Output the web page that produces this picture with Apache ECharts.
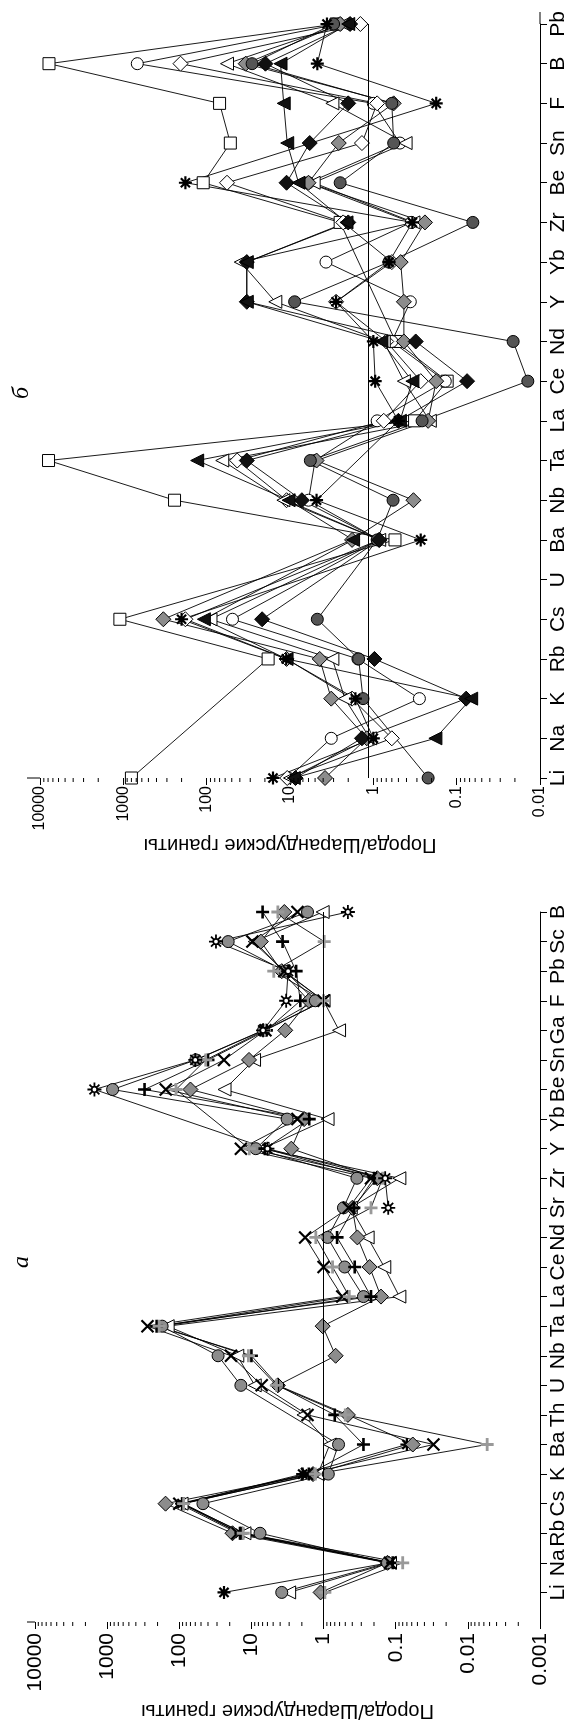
<!DOCTYPE html>
<html><head><meta charset="utf-8">
<script src="https://cdn.jsdelivr.net/npm/echarts@6/dist/echarts.min.js"></script>
<style>html,body{margin:0;padding:0;background:#fff}#c{width:575px;height:1722px}</style>
</head><body><div id="c"></div><script>
// ---------- Panel a (bottom) ----------
const catsA = ['Li','Na','Rb','Cs','K','Ba','Th','U','Nb','Ta','La','Ce','Nd','Sr','Zr','Y','Yb','Be','Sn','Ga','F','Pb','Sc','B'];
const aGrayCircle   = [3.8,0.13,7.6,47,0.86,0.62,null,14,29,173,0.28,0.51,0.88,0.53,0.345,8.7,3.2,840,59,6.8,1.3,3.4,21,1.67];
const aWhiteTri     = [3.0,0.12,12.5,93,1.2,0.82,1.9,9.0,15.7,145,0.089,0.144,0.245,0.42,0.089,7.0,0.88,23.6,9.2,0.61,1.0,3.6,9,1.03];
const aGrayDiamond  = [1.1,0.13,18.3,155,1.4,0.058,0.46,4.3,0.68,1.03,0.16,0.23,0.34,0.4,0.18,2.8,1.86,70,10.8,3.4,1.6,3.8,7.4,3.5];
const aCross        = [null,0.12,15.6,100,1.7,0.030,1.67,7.2,19.2,276,0.55,1.0,1.8,0.45,0.22,14,2.3,154,24,6.4,1.0,3.5,9.7,2.3];
const aPlus         = [null,0.11,14,90,1.6,0.28,0.70,4.3,10,206,0.22,0.37,0.65,0.38,0.2,6.5,1.58,303,40,6.2,2.1,2.4,3.7,7.0];
const aGrayPlus     = [0.96,0.08,13,87,1.3,0.0054,0.5,4.5,11,190,0.44,0.75,1.28,0.22,0.152,10.7,null,111,43,6.6,1.0,4.9,0.98,4.3];
const aOpenStar     = [null,null,null,null,null,null,null,null,null,null,null,null,null,0.127,0.14,6,null,1500,60,6.9,3.3,3.1,31,0.46];
const aAsterisk     = [24,0.125,14.5,92,1.95,0.07,null,null,null,null,null,null,null,null,null,null,null,null,null,null,null,null,null,null];
const tickLabelsA = ['0.001','0.01','0.1','1','10','100','1000','10000'];

// ---------- Panel б (top) ----------
const catsB = ['Li','Na','K','Rb','Cs','U','Ba','Nb','Ta','La','Ce','Nd','Y','Yb','Zr','Be','Sn','F','B','Pb'];
const bWhiteSquare  = [800,null,null,18.3,1100,null,0.55,243,7900,0.32,0.13,0.54,null,null,2.5,110,52,70,7800,2.8];
const bWhiteCircle  = [10.5,3.2,0.28,1.53,49,null,0.85,6,5,0.9,0.137,0.6,0.36,3.7,0.35,6,0.48,1.0,680,2.6];
const bWhiteDiamond = [10.8,0.6,1.8,11,180,null,0.85,11,43,0.75,0.27,0.7,2.8,0.6,2.3,57,1.37,0.9,206,1.43];
const bWhiteTri     = [10,1.1,2.2,3.1,90,null,0.85,12,65,0.21,0.43,0.75,15,39,0.33,5.2,0.41,3.1,57,2.3];
const bGrayDiamond  = [3.8,1.2,3.2,4.4,331,null,1.8,0.33,4.8,0.22,0.176,0.43,0.43,0.47,0.24,6.0,2.6,0.57,34,2.5];
const bDarkCircle   = [0.22,null,1.33,1.5,4.7,null,0.9,0.58,5.7,0.26,0.014,0.021,8.8,0.65,0.064,2.5,0.57,0.6,28.5,3.0];
const bBlackDiamond = [8.6,1.37,0.077,0.97,21.6,null,0.85,7.2,33,0.5,0.075,0.31,33,33,2.0,11,5.8,2.0,19.7,1.9];
const bBlackTri     = [9,0.18,0.067,11,108,null,1.75,10.4,130,0.48,0.34,0.8,33,33,2.1,7.9,10.8,11.9,13,2.0];
const bAsterisk     = [16,1.0,1.64,11.1,200,null,0.27,4.8,null,0.5,0.95,1.0,2.8,0.65,0.34,180,null,0.176,4.7,3.6];
const tickLabelsB = ['0.01','0.1','1','10','100','1000','10000'];

const minorMult = [2,3,4,5,6,7,8,9];
const refLineA = 1, refLineB = 1.15;

const FONT = '"Liberation Sans", Arial, sans-serif';
const SYM_AST = 'path://M0,5L10,5M5,0L5,10M1.5,1.5L8.5,8.5M8.5,1.5L1.5,8.5';
const SYM_OSTAR = 'path://M0,5L3,5M7,5L10,5M5,0L5,3M5,7L5,10M1.46,1.46L3.59,3.59M6.41,6.41L8.54,8.54M8.54,1.46L6.41,3.59M3.59,6.41L1.46,8.54M3,5A2,2 0 1,0 7,5A2,2 0 1,0 3,5Z';
const SYM_X = 'path://M1,1L9,9M9,1L1,9';
const SYM_P = 'path://M5,0L5,10M0,5L10,5';

function fmtLog(labels, minExp){
  return function(v){
    const e = Math.round(Math.log10(v));
    return labels[e - minExp] || '';
  };
}

function lineSeries(data, xi, yi, pad, sym, opt){
  const d = pad ? [null].concat(data) : data.slice();
  return Object.assign({
    type:'line', xAxisIndex:xi, yAxisIndex:yi, data:d, connectNulls:true,
    symbol:sym, symbolSize:12, showSymbol:true,
    lineStyle:{color:'#000', width:0.9},
    itemStyle:{color:'#fff', borderColor:'#000', borderWidth:1},
    emphasis:{disabled:true}, silent:true, z:3
  }, opt || {});
}

function minorTicks(xi, yi, e0, e1){
  const vals=[];
  for(let e=e0;e<e1;e++) for(const m of minorMult) vals.push([m*Math.pow(10,e),0]);
  return {type:'custom', xAxisIndex:xi, yAxisIndex:yi, silent:true, clip:false, z:5,
    data:vals, encode:{x:0,y:1},
    renderItem:function(params, api){
      const p = api.coord([api.value(0), api.value(1)]);
      return {type:'line', shape:{x1:p[0],y1:p[1],x2:p[0],y2:p[1]+4}, style:{stroke:'#000', lineWidth:1}};
    }};
}

const refMark = v => ({silent:true, symbol:['none','none'], label:{show:false},
  lineStyle:{color:'#000', width:1, type:'solid'}, data:[{xAxis:v}]});

function xAx(gi, min, labels, minExp, fs, margin, nameGap){
  return {type:'log', logBase:10, gridIndex:gi, min:min, max:10000, inverse:true,
    splitLine:{show:false},
    axisLine:{lineStyle:{color:'#000', width:1}},
    axisTick:{show:true, length:7, lineStyle:{color:'#000'}},
    axisLabel:{rotate:90, margin:margin, fontSize:fs, color:'#000', fontFamily:FONT, formatter:fmtLog(labels,minExp), showMinLabel:true, showMaxLabel:true},
    name:'Порода/Шарандурские граниты', nameLocation:'middle', nameRotate:180, nameGap:nameGap,
    nameTextStyle:{fontSize:20, color:'#000', fontFamily:FONT}};
}
function yAx(gi, cats){
  return {type:'category', gridIndex:gi, data:cats, boundaryGap:false, position:'right',
    axisLine:{lineStyle:{color:'#000', width:1}},
    axisTick:{show:true, length:7, interval:function(i,v){return v!=='';}, lineStyle:{color:'#000'}},
    axisLabel:{rotate:90, margin:8, fontSize:21, color:'#000', fontFamily:FONT, interval:0},
    splitLine:{show:false}};
}

const gray='#8c8c8c';
const series = [
  // panel a (grid 0)
  lineSeries(aAsterisk,0,0,true,SYM_AST,{symbolSize:13,itemStyle:{color:'#000',borderColor:'#000',borderWidth:2.2}, markLine:refMark(refLineA)}),
  lineSeries(aWhiteTri,0,0,true,'triangle',{symbolSize:13,symbolRotate:90}),
  lineSeries(aGrayDiamond,0,0,true,'diamond',{symbolSize:15,itemStyle:{color:gray,borderColor:'#000',borderWidth:1}}),
  lineSeries(aGrayCircle,0,0,true,'circle',{symbolSize:12,itemStyle:{color:gray,borderColor:'#000',borderWidth:1}}),
  lineSeries(aCross,0,0,true,SYM_X,{symbolSize:12,itemStyle:{color:'#000',borderColor:'#000',borderWidth:2.2}}),
  lineSeries(aPlus,0,0,true,SYM_P,{symbolSize:13,itemStyle:{color:'#000',borderColor:'#000',borderWidth:2.6}}),
  lineSeries(aGrayPlus,0,0,true,SYM_P,{symbolSize:13,itemStyle:{color:'#999',borderColor:'#999',borderWidth:2.8}}),
  lineSeries(aOpenStar,0,0,true,SYM_OSTAR,{symbolSize:14,itemStyle:{color:'#fff',borderColor:'#000',borderWidth:1.8}}),
  minorTicks(0,0,-3,4),
  // panel б (grid 1)
  lineSeries(bWhiteSquare,1,1,false,'rect',{symbolSize:12, markLine:refMark(refLineB)}),
  lineSeries(bWhiteCircle,1,1,false,'circle',{symbolSize:12}),
  lineSeries(bWhiteDiamond,1,1,false,'diamond',{symbolSize:15}),
  lineSeries(bWhiteTri,1,1,false,'triangle',{symbolSize:13,symbolRotate:90}),
  lineSeries(bGrayDiamond,1,1,false,'diamond',{symbolSize:15,itemStyle:{color:gray,borderColor:'#000',borderWidth:1}}),
  lineSeries(bDarkCircle,1,1,false,'circle',{symbolSize:12,itemStyle:{color:'#555',borderColor:'#000',borderWidth:1}}),
  lineSeries(bBlackDiamond,1,1,false,'diamond',{symbolSize:15,itemStyle:{color:'#111',borderColor:'#000',borderWidth:1}}),
  lineSeries(bBlackTri,1,1,false,'triangle',{symbolSize:13,symbolRotate:90,itemStyle:{color:'#111',borderColor:'#000',borderWidth:1}}),
  lineSeries(bAsterisk,1,1,false,SYM_AST,{symbolSize:13,itemStyle:{color:'#000',borderColor:'#000',borderWidth:2.2}}),
  minorTicks(1,1,-2,4)
];

const chart = echarts.init(document.getElementById('c'), null, {renderer:'canvas'});
chart.setOption({
  backgroundColor:'#fff',
  animation:false,
  grid:[
    {left:35, right:35, top:912, bottom:100},
    {left:40, right:35, top:24, bottom:944}
  ],
  xAxis:[xAx(0,0.001,tickLabelsA,-3,21,11,79), xAx(1,0.01,tickLabelsB,-2,16,8,52)],
  yAxis:[yAx(0,[''].concat(catsA)), yAx(1,catsB)],
  series:series,
  graphic:[
    {type:'line', shape:{x1:540,y1:12,x2:540,y2:24}, style:{stroke:'#000', lineWidth:1}},
    {type:'line', shape:{x1:27,y1:1622,x2:35,y2:1622}, style:{stroke:'#000', lineWidth:1}},
    {type:'line', shape:{x1:27,y1:778,x2:40,y2:778}, style:{stroke:'#000', lineWidth:1}},
    {type:'text', x:22, y:1262, rotation:Math.PI/2, style:{text:'a', font:'italic 24px "Liberation Serif", serif', fill:'#000', align:'center', verticalAlign:'middle'}},
    {type:'text', x:22, y:393, rotation:Math.PI/2, style:{text:'б', font:'italic 24px "Liberation Serif", serif', fill:'#000', align:'center', verticalAlign:'middle'}}
  ]
});
</script></body></html>
